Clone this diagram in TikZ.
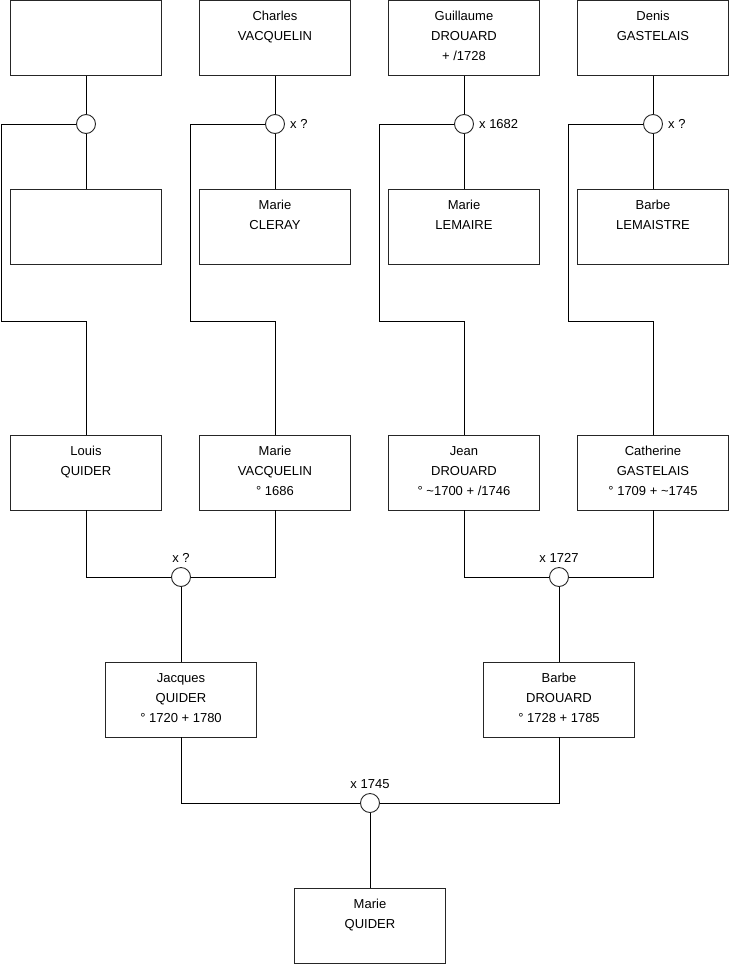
\documentclass[tikz,border=0pt]{standalone}
\usepackage{fontspec}
\setmainfont{Liberation Sans}
\newcommand\ptxt[1]{\parbox[c][75pt][t]{151pt}{\centering\fontsize{13}{20}\selectfont\rule{0pt}{20pt}#1\par}}
\tikzset{
  person/.style={draw=black!85, line width=0.9pt, rectangle, inner sep=0pt, minimum width=151pt, minimum height=75pt},
  union/.style={draw=black!85, line width=0.9pt, circle, fill=white, inner sep=0pt, minimum size=19pt},
  link/.style={draw=black, line width=0.9pt},
  lab/.style={inner sep=0pt, font=\fontsize{13}{15}\selectfont}
}
\begin{document}
\begin{tikzpicture}[x=1pt,y=-1pt]
\useasboundingbox (0,0) rectangle (740,975);
% row 1
\node[person] (p1) at (86,38) {\ptxt{}};
\node[person] (p2) at (275,38) {\ptxt{Charles\\VACQUELIN}};
\node[person] (p3) at (464,38) {\ptxt{Guillaume\\DROUARD\\+ /1728}};
\node[person] (p4) at (653,38) {\ptxt{Denis\\GASTELAIS}};
% row 2
\node[person] (q1) at (86,227) {\ptxt{}};
\node[person] (q2) at (275,227) {\ptxt{Marie\\CLERAY}};
\node[person] (q3) at (464,227) {\ptxt{Marie\\LEMAIRE}};
\node[person] (q4) at (653,227) {\ptxt{Barbe\\LEMAISTRE}};
% row 3
\node[person] (r1) at (86,472.5) {\ptxt{Louis\\QUIDER}};
\node[person] (r2) at (275,472.5) {\ptxt{Marie\\VACQUELIN\\° 1686}};
\node[person] (r3) at (464,472.5) {\ptxt{Jean\\DROUARD\\° \textasciitilde1700 + /1746}};
\node[person] (r4) at (653,472.5) {\ptxt{Catherine\\GASTELAIS\\° 1709 + \textasciitilde1745}};
% row 4
\node[person] (s1) at (181,699.5) {\ptxt{Jacques\\QUIDER\\° 1720 + 1780}};
\node[person] (s2) at (559,699.5) {\ptxt{Barbe\\DROUARD\\° 1728 + 1785}};
% row 5
\node[person] (t1) at (370,926) {\ptxt{Marie\\QUIDER}};
% unions
\node[union] (u1) at (86,124) {};
\node[union] (u2) at (275,124) {};
\node[union] (u3) at (464,124) {};
\node[union] (u4) at (653,124) {};
\node[union] (v1) at (181,577) {};
\node[union] (v2) at (559,577) {};
\node[union] (w1) at (370,803) {};
% bend coordinates
\coordinate (k1) at (1.5,321.5);
\coordinate (k2) at (190.5,321.5);
\coordinate (k3) at (379.5,321.5);
\coordinate (k4) at (568.5,321.5);
% connectors
\foreach \i in {1,2,3,4}{
  \draw[link] (p\i.south) -- (u\i.north);
  \draw[link] (u\i.south) -- (q\i.north);
  \draw[link] (u\i.west) -| (k\i) -| (r\i.north);
}
\draw[link] (r1.south) |- (v1.west);
\draw[link] (r2.south) |- (v1.east);
\draw[link] (v1.south) -- (s1.north);
\draw[link] (r3.south) |- (v2.west);
\draw[link] (r4.south) |- (v2.east);
\draw[link] (v2.south) -- (s2.north);
\draw[link] (s1.south) |- (w1.west);
\draw[link] (s2.south) |- (w1.east);
\draw[link] (w1.south) -- (t1.north);
% labels
\node[lab, anchor=base west] (l2) at ([xshift=5pt,yshift=-4.6pt]u2.east) {x ?};
\node[lab, anchor=base west] (l3) at ([xshift=5pt,yshift=-4.6pt]u3.east) {x 1682};
\node[lab, anchor=base west] (l4) at ([xshift=5pt,yshift=-4.6pt]u4.east) {x ?};
\node[lab, anchor=base] (m1) at ([yshift=4.5pt]v1.north) {x ?};
\node[lab, anchor=base] (m2) at ([yshift=4.5pt]v2.north) {x 1727};
\node[lab, anchor=base] (m3) at ([yshift=4.5pt]w1.north) {x 1745};
\end{tikzpicture}
\end{document}
